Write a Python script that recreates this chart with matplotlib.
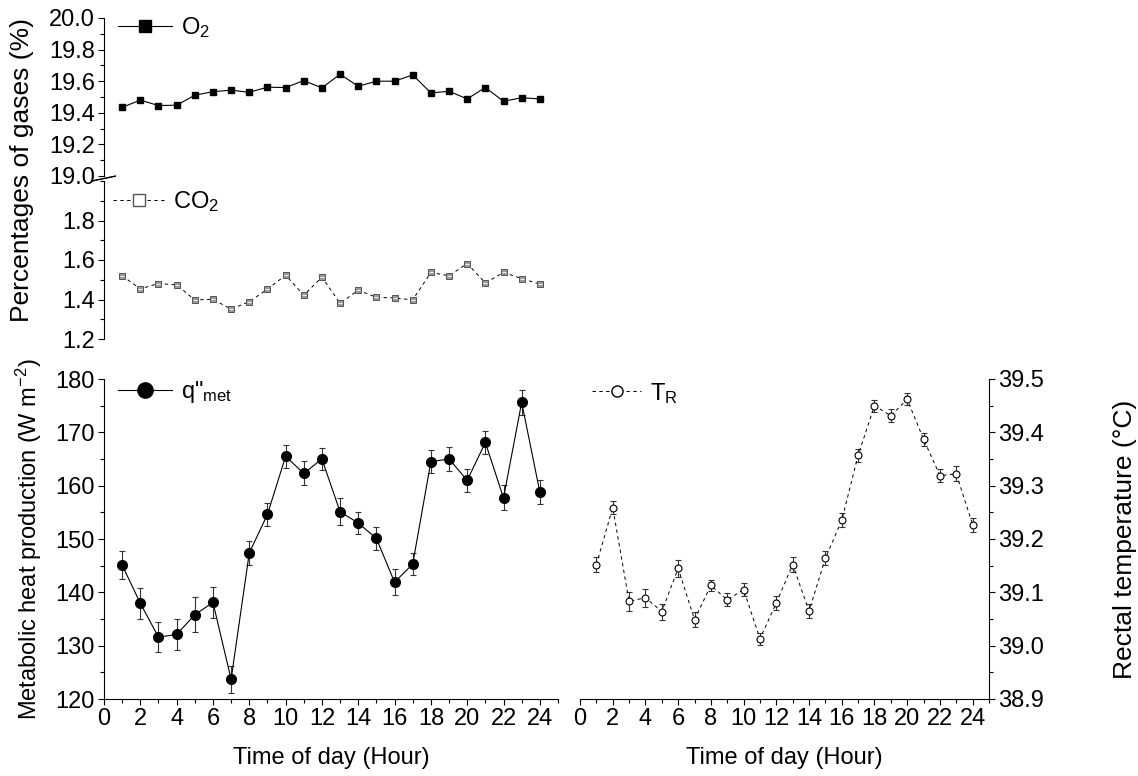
import matplotlib
matplotlib.use('Agg')
import matplotlib.pyplot as plt
from matplotlib.lines import Line2D
from matplotlib.ticker import MultipleLocator, FormatStrFormatter

plt.rcParams['font.family'] = ['Liberation Sans', 'DejaVu Sans']
plt.rcParams['mathtext.fontset'] = 'custom'
plt.rcParams['mathtext.rm'] = 'Liberation Sans'
plt.rcParams['mathtext.it'] = 'Liberation Sans:italic'
plt.rcParams['font.size'] = 17

# hours of the day
hours = list(range(1, 25))

# gas percentages
o2 = [19.435, 19.48, 19.446, 19.448, 19.511, 19.534, 19.543, 19.53, 19.562, 19.56,
      19.604, 19.558, 19.644, 19.568, 19.60, 19.60, 19.64, 19.526, 19.536, 19.488,
      19.56, 19.473, 19.495, 19.488]
co2 = [1.52, 1.454, 1.481, 1.474, 1.398, 1.401, 1.351, 1.389, 1.452, 1.523,
       1.422, 1.513, 1.381, 1.447, 1.411, 1.408, 1.398, 1.537, 1.52, 1.582,
       1.484, 1.537, 1.506, 1.478]

# metabolic heat production (W m-2) and its error
q_met = [145.1, 137.95, 131.6, 132.1, 135.8, 138.1, 123.7, 147.4, 154.6, 165.5,
         162.3, 165.0, 155.1, 153.0, 150.1, 141.9, 145.3, 164.5, 165.0, 161.0,
         168.1, 157.7, 175.6, 158.8]
q_err = [2.6, 2.9, 2.8, 2.9, 3.3, 2.9, 2.5, 2.3, 2.2, 2.2,
         2.25, 2.1, 2.5, 2.1, 2.2, 2.45, 2.1, 2.15, 2.2, 2.2,
         2.1, 2.35, 2.3, 2.3]

# rectal temperature (C) and its error
t_r = [39.152, 39.259, 39.083, 39.090, 39.064, 39.145, 39.049, 39.113, 39.086, 39.105,
       39.013, 39.080, 39.152, 39.065, 39.164, 39.235, 39.357, 39.450, 39.431, 39.462,
       39.387, 39.319, 39.322, 39.227]
t_err = [0.0145, 0.013, 0.018, 0.017, 0.015, 0.016, 0.014, 0.011, 0.0125, 0.0125,
         0.0115, 0.0125, 0.0135, 0.013, 0.013, 0.013, 0.0125, 0.0115, 0.012, 0.0115,
         0.0125, 0.0125, 0.014, 0.013]

W, H = 1138, 776
fig = plt.figure(figsize=(W / 100, H / 100), dpi=100)


def px_axes(x0, y0, x1, y1):
    return fig.add_axes([x0 / W, 1 - y1 / H, (x1 - x0) / W, (y1 - y0) / H])


ax_o2 = px_axes(104, 18, 558, 176)
ax_co2 = px_axes(104, 181, 558, 339)
ax_q = px_axes(104, 379, 558, 699)
ax_t = px_axes(580, 379, 989, 699)

dash = (0, (3.5, 3.5))
ecol = '#333333'

for ax in (ax_o2, ax_co2, ax_q, ax_t):
    ax.set_xlim(0, 25)
    ax.tick_params(which='major', direction='out', length=4.5, width=0.8, pad=2, labelsize=17)
    ax.tick_params(which='minor', direction='out', length=2.8, width=0.8)
    for s in ax.spines.values():
        s.set_linewidth(0.8)
    ax.spines['top'].set_visible(False)
    ax.spines['right'].set_visible(False)

# top panels: O2 and CO2 with broken axis
for ax in (ax_o2, ax_co2):
    ax.spines['bottom'].set_visible(False)
    ax.set_xticks([])

ax_o2.plot(hours, o2, color='black', lw=0.8, marker='s', ms=5, mfc='black', mec='black')
ax_o2.set_ylim(19.0, 20.0)
ax_o2.yaxis.set_major_locator(MultipleLocator(0.2))
ax_o2.yaxis.set_minor_locator(MultipleLocator(0.1))
ax_o2.yaxis.set_major_formatter(FormatStrFormatter('%.1f'))

ax_co2.plot(hours, co2, color='black', lw=0.7, ls=dash, marker='s', ms=4.5,
            mfc='#9a9a9a', mec='#555555', mew=0.7)
ax_co2.plot(hours, co2, ls='none', marker='_', ms=3, mec='white', mew=0.6)
ax_co2.set_ylim(1.2, 2.0)
ax_co2.set_yticks([1.2, 1.4, 1.6, 1.8])
ax_co2.yaxis.set_minor_locator(MultipleLocator(0.1))

# break marks
kw = dict(color='black', lw=0.8, clip_on=False)
ax_o2.plot([-0.025, 0.025], [-0.03, 0.0], transform=ax_o2.transAxes, **kw)
ax_co2.plot([-0.025, 0.025], [1.0, 1.03], transform=ax_co2.transAxes, **kw)

fig.text(22 / W, 1 - 170 / H, 'Percentages of gases (%)', rotation=90,
         ha='center', va='center', fontsize=19)

# metabolic heat production
ax_q.errorbar(hours, q_met, yerr=q_err, color='black', lw=0.8, marker='o', ms=7,
              mfc='black', mec='black', ecolor=ecol, elinewidth=0.8, capsize=2.3, capthick=0.8)
ax_q.set_ylim(120, 180)
ax_q.yaxis.set_major_locator(MultipleLocator(10))
ax_q.yaxis.set_minor_locator(MultipleLocator(5))
ax_q.set_xticks(range(0, 25, 2))
ax_q.xaxis.set_minor_locator(MultipleLocator(1))
ax_q.set_xlabel('Time of day (Hour)', fontsize=17, labelpad=12)
ax_q.set_ylabel('Metabolic heat production (W m$^{-2}$)', fontsize=17, labelpad=8)

# rectal temperature
ax_t.errorbar(hours, t_r, yerr=t_err, color='black', lw=0.7, ls=dash, marker='o', ms=5,
              mfc='white', mec='black', mew=0.8, ecolor=ecol, elinewidth=0.8,
              capsize=2.3, capthick=0.8)
ax_t.set_ylim(38.9, 39.5)
ax_t.spines['left'].set_visible(False)
ax_t.spines['right'].set_visible(True)
ax_t.yaxis.tick_right()
ax_t.yaxis.set_label_position('right')
ax_t.yaxis.set_major_locator(MultipleLocator(0.1))
ax_t.yaxis.set_minor_locator(MultipleLocator(0.05))
ax_t.yaxis.set_major_formatter(FormatStrFormatter('%.1f'))
ax_t.set_xticks(range(0, 25, 2))
ax_t.xaxis.set_minor_locator(MultipleLocator(1))
ax_t.set_xlabel('Time of day (Hour)', fontsize=17, labelpad=12)
ax_t.set_ylabel('Rectal temperature (\u00b0C)', fontsize=19, labelpad=50)

# legends
lg_kw = dict(loc='center left', frameon=False, borderaxespad=0, borderpad=0,
             handletextpad=0.35, fontsize=17)
h_o2 = Line2D([], [], color='black', lw=0.8, marker='s', ms=9, mfc='black', mec='black')
ax_o2.legend([h_o2], ['O$_2$'], bbox_to_anchor=(0.031, 0.937), handlelength=2.3, **lg_kw)
h_co2 = Line2D([], [], color='black', lw=0.7, ls=dash, marker='s', ms=8, mfc='white', mec='#555555')
ax_co2.legend([h_co2], ['CO$_2$'], bbox_to_anchor=(0.02, 0.867), handlelength=2.2, **lg_kw)
h_q = Line2D([], [], color='black', lw=0.8, marker='o', ms=11, mfc='black', mec='black')
ax_q.legend([h_q], ['q"$_{\\rm met}$'], bbox_to_anchor=(0.031, 0.959), handlelength=2.3, **lg_kw)
h_t = Line2D([], [], color='black', lw=0.7, ls=dash, marker='o', ms=8, mfc='white', mec='black')
ax_t.legend([h_t], ['T$_{\\rm R}$'], bbox_to_anchor=(0.029, 0.956), handlelength=2.1, **lg_kw)

fig.savefig('out.png', dpi=100)
